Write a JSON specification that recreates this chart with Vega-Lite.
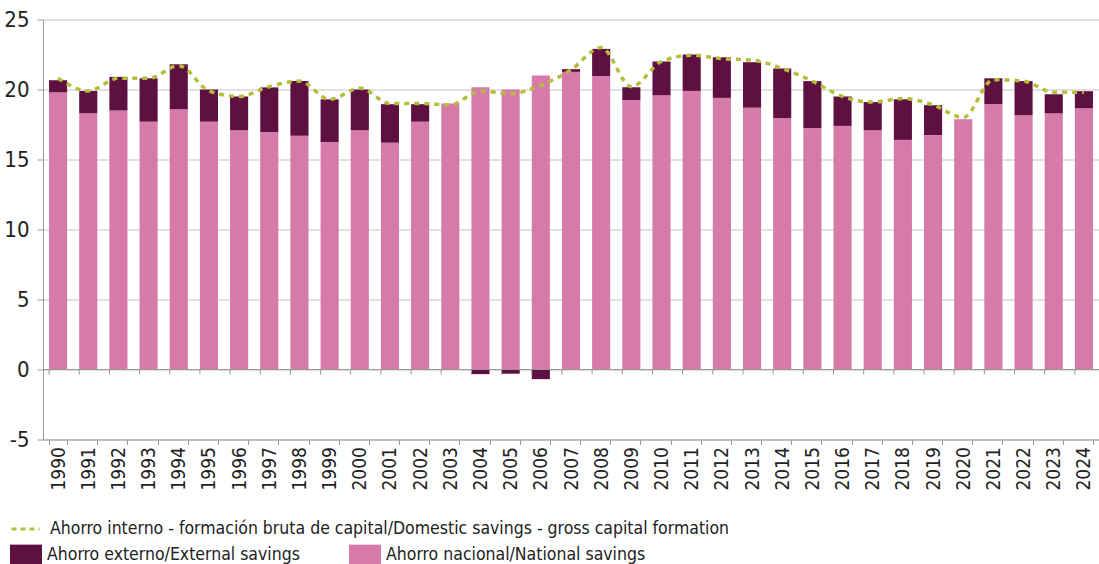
{
  "$schema": "https://vega.github.io/schema/vega-lite/v6.json",
  "width": 1056,
  "height": 420,
  "autosize": {"type": "none"},
  "padding": {"left": 43, "top": 19.5, "right": 0, "bottom": 124.5},
  "background": "white",
  "config": {
    "font": "DejaVu Sans Condensed",
    "view": {"stroke": null},
    "axis": {"labelColor": "#222", "title": null, "domainColor": "#999", "tickColor": "#999"},
    "legend": {"labelColor": "#222", "labelFontSize": 17.5, "labelLimit": 1000, "title": null}
  },
  "datasets": {
    "bars": [
      {"year": 1990, "series": "Ahorro nacional/National savings", "value": 19.8},
      {"year": 1990, "series": "Ahorro externo/External savings", "value": 0.86},
      {"year": 1991, "series": "Ahorro nacional/National savings", "value": 18.3},
      {"year": 1991, "series": "Ahorro externo/External savings", "value": 1.6},
      {"year": 1992, "series": "Ahorro nacional/National savings", "value": 18.5},
      {"year": 1992, "series": "Ahorro externo/External savings", "value": 2.4},
      {"year": 1993, "series": "Ahorro nacional/National savings", "value": 17.7},
      {"year": 1993, "series": "Ahorro externo/External savings", "value": 3.1},
      {"year": 1994, "series": "Ahorro nacional/National savings", "value": 18.6},
      {"year": 1994, "series": "Ahorro externo/External savings", "value": 3.2},
      {"year": 1995, "series": "Ahorro nacional/National savings", "value": 17.7},
      {"year": 1995, "series": "Ahorro externo/External savings", "value": 2.3},
      {"year": 1996, "series": "Ahorro nacional/National savings", "value": 17.1},
      {"year": 1996, "series": "Ahorro externo/External savings", "value": 2.4},
      {"year": 1997, "series": "Ahorro nacional/National savings", "value": 16.95},
      {"year": 1997, "series": "Ahorro externo/External savings", "value": 3.2},
      {"year": 1998, "series": "Ahorro nacional/National savings", "value": 16.7},
      {"year": 1998, "series": "Ahorro externo/External savings", "value": 3.9},
      {"year": 1999, "series": "Ahorro nacional/National savings", "value": 16.24},
      {"year": 1999, "series": "Ahorro externo/External savings", "value": 3.06},
      {"year": 2000, "series": "Ahorro nacional/National savings", "value": 17.1},
      {"year": 2000, "series": "Ahorro externo/External savings", "value": 2.9},
      {"year": 2001, "series": "Ahorro nacional/National savings", "value": 16.2},
      {"year": 2001, "series": "Ahorro externo/External savings", "value": 2.75},
      {"year": 2002, "series": "Ahorro nacional/National savings", "value": 17.7},
      {"year": 2002, "series": "Ahorro externo/External savings", "value": 1.25},
      {"year": 2003, "series": "Ahorro nacional/National savings", "value": 19.0},
      {"year": 2003, "series": "Ahorro externo/External savings", "value": 0},
      {"year": 2004, "series": "Ahorro nacional/National savings", "value": 20.16},
      {"year": 2004, "series": "Ahorro externo/External savings", "value": -0.33},
      {"year": 2005, "series": "Ahorro nacional/National savings", "value": 20.0},
      {"year": 2005, "series": "Ahorro externo/External savings", "value": -0.3},
      {"year": 2006, "series": "Ahorro nacional/National savings", "value": 21.0},
      {"year": 2006, "series": "Ahorro externo/External savings", "value": -0.69},
      {"year": 2007, "series": "Ahorro nacional/National savings", "value": 21.26},
      {"year": 2007, "series": "Ahorro externo/External savings", "value": 0.19},
      {"year": 2008, "series": "Ahorro nacional/National savings", "value": 20.95},
      {"year": 2008, "series": "Ahorro externo/External savings", "value": 1.95},
      {"year": 2009, "series": "Ahorro nacional/National savings", "value": 19.24},
      {"year": 2009, "series": "Ahorro externo/External savings", "value": 0.92},
      {"year": 2010, "series": "Ahorro nacional/National savings", "value": 19.6},
      {"year": 2010, "series": "Ahorro externo/External savings", "value": 2.4},
      {"year": 2011, "series": "Ahorro nacional/National savings", "value": 19.9},
      {"year": 2011, "series": "Ahorro externo/External savings", "value": 2.6},
      {"year": 2012, "series": "Ahorro nacional/National savings", "value": 19.4},
      {"year": 2012, "series": "Ahorro externo/External savings", "value": 2.9},
      {"year": 2013, "series": "Ahorro nacional/National savings", "value": 18.7},
      {"year": 2013, "series": "Ahorro externo/External savings", "value": 3.25},
      {"year": 2014, "series": "Ahorro nacional/National savings", "value": 17.95},
      {"year": 2014, "series": "Ahorro externo/External savings", "value": 3.55},
      {"year": 2015, "series": "Ahorro nacional/National savings", "value": 17.24},
      {"year": 2015, "series": "Ahorro externo/External savings", "value": 3.36},
      {"year": 2016, "series": "Ahorro nacional/National savings", "value": 17.4},
      {"year": 2016, "series": "Ahorro externo/External savings", "value": 2.1},
      {"year": 2017, "series": "Ahorro nacional/National savings", "value": 17.1},
      {"year": 2017, "series": "Ahorro externo/External savings", "value": 2.0},
      {"year": 2018, "series": "Ahorro nacional/National savings", "value": 16.4},
      {"year": 2018, "series": "Ahorro externo/External savings", "value": 2.9},
      {"year": 2019, "series": "Ahorro nacional/National savings", "value": 16.74},
      {"year": 2019, "series": "Ahorro externo/External savings", "value": 2.14},
      {"year": 2020, "series": "Ahorro nacional/National savings", "value": 17.88},
      {"year": 2020, "series": "Ahorro externo/External savings", "value": 0},
      {"year": 2021, "series": "Ahorro nacional/National savings", "value": 18.95},
      {"year": 2021, "series": "Ahorro externo/External savings", "value": 1.85},
      {"year": 2022, "series": "Ahorro nacional/National savings", "value": 18.16},
      {"year": 2022, "series": "Ahorro externo/External savings", "value": 2.44},
      {"year": 2023, "series": "Ahorro nacional/National savings", "value": 18.3},
      {"year": 2023, "series": "Ahorro externo/External savings", "value": 1.36},
      {"year": 2024, "series": "Ahorro nacional/National savings", "value": 18.66},
      {"year": 2024, "series": "Ahorro externo/External savings", "value": 1.22}
    ],
    "line": [
      {"year": 1990, "value": 20.8}, {"year": 1991, "value": 19.9}, {"year": 1992, "value": 20.8},
      {"year": 1993, "value": 20.8}, {"year": 1994, "value": 21.7}, {"year": 1995, "value": 19.9},
      {"year": 1996, "value": 19.5}, {"year": 1997, "value": 20.2}, {"year": 1998, "value": 20.6},
      {"year": 1999, "value": 19.3}, {"year": 2000, "value": 20.1}, {"year": 2001, "value": 19.0},
      {"year": 2002, "value": 19.0}, {"year": 2003, "value": 18.9}, {"year": 2004, "value": 19.9},
      {"year": 2005, "value": 19.7}, {"year": 2006, "value": 20.3}, {"year": 2007, "value": 21.4},
      {"year": 2008, "value": 23.0}, {"year": 2009, "value": 20.2}, {"year": 2010, "value": 22.0},
      {"year": 2011, "value": 22.45}, {"year": 2012, "value": 22.2}, {"year": 2013, "value": 22.1},
      {"year": 2014, "value": 21.5}, {"year": 2015, "value": 20.6}, {"year": 2016, "value": 19.5},
      {"year": 2017, "value": 19.1}, {"year": 2018, "value": 19.35}, {"year": 2019, "value": 18.9},
      {"year": 2020, "value": 18.0}, {"year": 2021, "value": 20.7}, {"year": 2022, "value": 20.6},
      {"year": 2023, "value": 19.8}, {"year": 2024, "value": 19.8}
    ]
  },
  "layer": [
    {
      "data": {"name": "bars"},
      "mark": {"type": "bar"},
      "encoding": {
        "x": {
          "field": "year", "type": "ordinal",
          "scale": {"paddingInner": 0.4, "paddingOuter": 0.2},
          "axis": {"labelAngle": -90, "labelFontSize": 19, "tickBand": "extent", "tickSize": 5, "labelPadding": 2, "grid": false}
        },
        "y": {
          "field": "value", "type": "quantitative", "stack": "zero",
          "scale": {"domain": [-5, 25], "nice": false, "zero": false},
          "axis": {"values": [-5, 0, 5, 10, 15, 20, 25], "labelExpr": "replace(datum.label, '−', '-')", "labelFontSize": 22, "tickSize": 6, "labelPadding": 8, "grid": true, "gridColor": "#c4c4c4"}
        },
        "color": {
          "field": "series", "type": "nominal",
          "scale": {"domain": ["Ahorro externo/External savings", "Ahorro nacional/National savings"], "range": ["#5e1040", "#d57aa9"]},
          "legend": {"orient": "none", "legendX": -33, "legendY": 519, "direction": "horizontal", "symbolType": "M-1,-0.62L1,-0.62L1,0.62L-1,0.62Z", "symbolSize": 1024, "symbolStrokeWidth": 0, "labelOffset": 5, "columnPadding": 49}
        },
        "order": {"field": "series", "sort": "descending"}
      }
    },
    {
      "data": {"values": [{}]},
      "mark": {"type": "rule", "color": "#999", "strokeWidth": 1},
      "encoding": {"y": {"datum": 0}}
    },
    {
      "data": {"name": "line"},
      "mark": {"type": "rule", "color": "#999", "strokeWidth": 1},
      "encoding": {
        "x": {"field": "year", "type": "ordinal", "bandPosition": 0},
        "y": {"datum": 0},
        "y2": {"datum": -0.36}
      }
    },
    {
      "data": {"name": "line"},
      "mark": {"type": "line", "interpolate": "monotone", "strokeDash": [5, 5], "strokeWidth": 3.5},
      "encoding": {
        "x": {"field": "year", "type": "ordinal"},
        "y": {"field": "value", "type": "quantitative"},
        "stroke": {
          "datum": "Ahorro interno - formación bruta de capital/Domestic savings - gross capital formation",
          "type": "nominal",
          "scale": {"range": ["#b5bd3a"]},
          "legend": {"orient": "none", "legendX": -33, "legendY": 494, "symbolType": "stroke", "symbolSize": 784, "symbolStrokeWidth": 3, "symbolDash": [5, 4], "labelOffset": 9}
        }
      }
    }
  ]
}
